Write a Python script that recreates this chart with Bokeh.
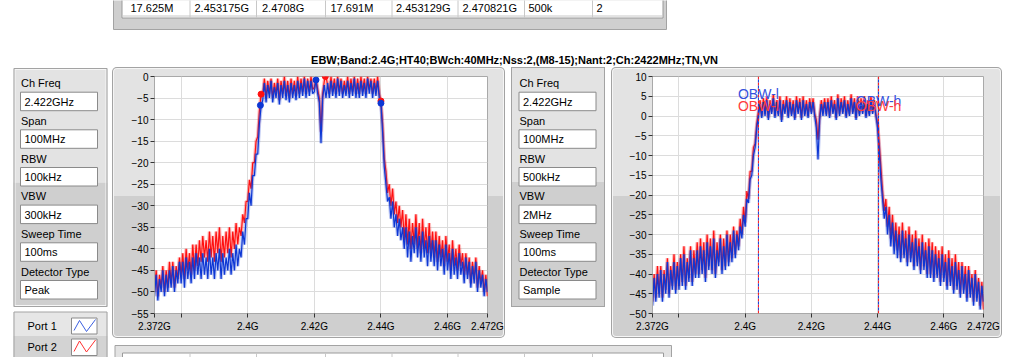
import numpy as np
from bokeh.plotting import figure
from bokeh.models import Range1d, FixedTicker, Span, Spacer
from bokeh.layouts import row, column
from bokeh.core.properties import value
from bokeh.embed import file_html
from bokeh.resources import INLINE

FONT = "Liberation Sans"

# ---- sweep: 2.372 GHz .. 2.472 GHz (MHz units) ----
f_start, f_stop = 2372.0, 2472.0

# Peak detector, RBW 100 kHz (dB)
port1_peak = [
    -51, -46, -52, -47, -50, -45, -51, -46, -50, -45, -49, -44, -50, -45, -48, -43,
    -48, -43, -49, -42, -47, -43, -48, -42, -47, -41, -46, -42,
    -47, -41, -46, -42, -47, -40, -46, -42, -47, -41, -45, -40, -47, -41, -46, -42, -45, -40, -46, -41, -45, -39, -44, -40,
    -42, -36, -39, -33, -33, -27, -30, -23, -23, -18, -18, -11, -7,
    -5.5, -1.5, -6, -2, -5, -1, -6, -2.5, -5, -1.5, -6.5, -2, -5, -1, -5.5, -2, -6, -1.5, -5, -2,
    -5.5, -1, -5, -1.5, -4.5, -0.5, -5, -1, -4.5, -1, -4,
    -3.5, -0.8, -4, -6, -15.5, -5, -2, -5, -1.5,
    -5, -1, -4.5, -1.5, -5, -0.5, -4.5, -1, -5, -2, -4.5, -1, -5, -1.5, -4.5, -0.5, -5, -1.5, -5, -1,
    -4.5, -1.5, -5, -0.5, -4, -1, -5, -1.5, -4.5, -1, -5,
    -6.2, -13, -21, -25, -29, -28, -33, -29, -35, -32, -37, -33, -38, -35,
    -40, -35, -42, -36, -43, -37, -41, -35, -42, -37, -43, -36, -42, -38, -44, -37, -43, -38,
    -44, -38, -45, -39, -44, -40, -46, -39, -45, -41, -47, -40, -46, -42, -47, -41, -46, -43,
    -48, -42, -47, -43, -49, -44, -48, -43, -50, -45, -49, -46, -51, -47, -50,
]
port2_peak = [
    -50, -45, -51, -46, -49, -44, -50, -45, -49, -43, -48, -43, -49, -44, -47, -42,
    -46, -41, -47, -40, -45, -41, -46, -39, -45, -39, -44, -38,
    -43, -37, -42, -38, -43, -36, -42, -37, -43, -36, -41, -35, -43, -37, -42, -36, -41, -35, -42, -36, -40, -34, -39, -35,
    -37, -32, -34, -29, -29, -24, -26, -20, -20, -15, -14, -8, -4,
    -4.5, -0.5, -5, -1, -4, -0.5, -5, -1.5, -4, -0.5, -5.5, -1, -4, 0, -4.5, -1, -5, -0.5, -4, -1,
    -4.5, 0, -4, -0.5, -3.5, 0, -4, -0.5, -3.5, 0, -3,
    -2.5, -0.5, -3, -5, -12.8, -4, -1, 0, -2,
    -4, 0, -3.5, -0.5, -4, 0, -3.5, -0.5, -4, -1, -3.5, 0, -4, -0.5, -3.5, 0, -4, -0.5, -4, 0,
    -3.5, -0.5, -4, 0, -3, -0.5, -4, -0.5, -3.5, 0, -4,
    -5.7, -11, -19, -22, -27, -25, -30, -26, -32, -29, -34, -30, -35, -31,
    -38, -32, -39, -33, -40, -34, -39, -32, -40, -34, -41, -33, -40, -35, -41, -34, -41, -36,
    -42, -36, -43, -37, -42, -38, -44, -37, -43, -39, -45, -38, -44, -40, -45, -39, -44, -41,
    -46, -41, -46, -42, -48, -43, -47, -42, -49, -44, -48, -45, -50, -46, -51,
]

# Sample detector, RBW 500 kHz (dB)
port1_sample = [
    -48, -41, -47, -40, -46, -39, -47, -40, -45, -37, -46, -39, -44, -37, -45, -38,
    -44, -36, -43, -35, -44, -37, -42, -34, -43, -36, -41, -34,
    -41, -33, -40, -34, -42, -32, -39, -33, -40, -31, -41, -34, -38, -31, -40, -33, -39, -30, -38, -32, -37, -29, -36, -30,
    -34, -28, -31, -25, -28, -21, -22, -16, -15, -10, -8, -3, 0,
    3, -0.5, 3.5, 0, 4, -1, 3, 0.5, 4.5, -0.5, 3.5, 0, 4, -1.5, 3, 0.5, 4, -0.5, 3.5, 0,
    3, -1, 4, 0.5, 3.5, -1, 4, 0, 3, -0.5, 3.5,
    0.5, 3.5, 0, -3, -11, -1, 3, 0, 3.5,
    0, 3.5, -0.5, 4, 0.5, 3, -1, 4.5, 0, 3.5, 0.5, 4, -0.5, 3, 0, 4.5, 0.5, 3.5, -1, 4,
    0, 3.5, 0.5, 4, -0.5, 3, 0, 4, 0.5, 3, 0,
    -3, -9, -16, -21, -26, -23, -30, -25, -33, -27, -35, -29, -36, -30,
    -37, -29, -36, -31, -38, -30, -37, -32, -39, -31, -38, -33, -40, -32, -39, -34, -41, -33,
    -41, -34, -42, -35, -41, -36, -43, -35, -42, -37, -44, -36, -43, -38, -45, -37, -44, -39,
    -46, -38, -45, -40, -47, -39, -46, -41, -48, -40, -47, -42, -49, -43, -47,
]
port2_sample = [
    -47, -40, -46, -38, -45, -38, -46, -39, -44, -36, -45, -38, -43, -35, -44, -37,
    -43, -35, -42, -33, -43, -36, -41, -33, -42, -34, -40, -32,
    -40, -31, -39, -32, -41, -30, -38, -31, -39, -29, -40, -32, -37, -30, -39, -31, -38, -29, -37, -30, -36, -28, -35, -29,
    -33, -26, -30, -23, -27, -19, -21, -14, -14, -8, -7, -2, 1,
    4, 0, 4.5, 0.5, 5, -0.5, 4, 1, 5.5, 0, 4, 0.5, 5, -1, 4, 1, 5, 0, 4.5, 0.5,
    4, -0.5, 5, 1, 4.5, -0.5, 5, 0.5, 4, 0, 4.5,
    1, 4.5, 0.5, -1, -6, 0, 4, 1, 4.5,
    0.5, 4.5, 0, 5, 1, 4, -0.5, 5.5, 0.5, 4.5, 1, 5, 0, 4, 0.5, 5.5, 1, 4.5, -0.5, 5,
    0.5, 4.5, 1, 5, 0, 4, 0.5, 5, 1, 4, 0.5,
    -2, -7, -13, -19, -24, -21, -28, -23, -31, -25, -33, -27, -34, -28,
    -36, -27, -35, -29, -37, -28, -36, -30, -38, -29, -37, -31, -39, -30, -38, -32, -40, -31,
    -40, -32, -41, -33, -40, -34, -42, -33, -41, -35, -43, -34, -42, -36, -44, -35, -43, -37,
    -45, -37, -44, -38, -46, -38, -45, -40, -47, -39, -46, -41, -48, -42, -49,
]

# band-edge and peak markers on the peak-detector graph
port1_marker_f = [2403.8, 2420.5, 2440.0]
port1_marker_db = [-6.7, -0.8, -6.2]
port2_marker_f = [2404.0, 2423.3, 2440.0]
port2_marker_db = [-4.1, 0.0, -5.7]

# occupied-bandwidth cursors on the sample-detector graph
obw_f = [2404.0, 2440.3]
obw_names = ["OBW-l", "OBW-h"]
obw_port1_db = [5.6, 3.9]
obw_port2_db = [2.6, 2.6]

x_tick_values = [2372, 2380, 2400, 2420, 2440, 2460, 2472]
x_tick_labels = ["2.372G", "", "2.4G", "2.42G", "2.44G", "2.46G", "2.472G"]
peak_y_ticks = list(range(-55, 1, 5))
sample_y_ticks = list(range(-50, 11, 5))

setting_names = ["Ch Freq", "Span", "RBW", "VBW", "Sweep Time", "Detector Type"]
peak_settings = ["2.422GHz", "100MHz", "100kHz", "300kHz", "100ms", "Peak"]
sample_settings = ["2.422GHz", "100MHz", "500kHz", "2MHz", "100ms", "Sample"]

result_row = ["17.625M", "2.453175G", "2.4708G", "17.691M", "2.453129G", "2.470821G", "500k", "2"]
port_names = ["Port 1", "Port 2"]

title_text = "EBW;Band:2.4G;HT40;BWch:40MHz;Nss:2,(M8-15);Nant:2;Ch:2422MHz;TN,VN"

PORT1 = "#0d37d4"
PORT2 = "#ff1010"
LIGHT = "#e3e3e3"
DARK = "#cfcfcf"
EDGE = "#a3a3a3"


def chrome(x0, y0, w, h):
    """Pixel-space canvas for the panel decorations."""
    p = figure(width=w, height=h, x_range=Range1d(x0, x0 + w), y_range=Range1d(y0 + h, y0),
               toolbar_location=None, output_backend="svg", min_border=0,
               x_axis_location=None, y_axis_location=None)
    p.grid.visible = False
    p.outline_line_color = None
    p.background_fill_color = "white"
    p.border_fill_color = "white"
    return p


def panel(p, x0, x1, y0, y1, split):
    p.quad(left=[x0], right=[x1], top=[y0], bottom=[split], fill_color=LIGHT, line_color=None)
    p.quad(left=[x0], right=[x1], top=[split], bottom=[y1], fill_color=DARK, line_color=None)
    p.quad(left=[x0 + 1.5], right=[x1 - 1.5], top=[y0 + 1.5], bottom=[y1 - 1.5],
           fill_color=None, line_color="#f6f6f6")
    p.quad(left=[x0 + 0.5], right=[x1 - 0.5], top=[y0 + 0.5], bottom=[y1 - 0.5],
           fill_color=None, line_color=EDGE)


def txt(p, xs, ys, texts, size="11px", align="left", baseline="middle", color="black", style="normal"):
    p.text(x=xs, y=ys, text=texts, text_font=value(FONT), text_font_size=size,
           text_align=align, text_baseline=baseline, text_color=color, text_font_style=style)


label_y = [82.7, 120.3, 158.0, 195.6, 233.3, 271.0]


def settings_fields(p, x0, vals):
    bl = x0 + 7
    br = x0 + 84
    p.quad(left=[bl] * 6, right=[br] * 6, top=[y + 9 for y in label_y],
           bottom=[y + 27.5 for y in label_y], fill_color="white", line_color="#8a8a8a")
    txt(p, [x0 + 7.5] * 6, label_y, setting_names)
    txt(p, [bl + 4] * 6, [y + 18.6 for y in label_y], vals)


# ---- top strip: result table edge and test title ----
top = chrome(0, 0, 1018, 67)
top.quad(left=[113], right=[666], top=[-10], bottom=[29], fill_color=DARK, line_color=EDGE)
top.quad(left=[121.5], right=[662.5], top=[-10], bottom=[17.5], fill_color="white", line_color="#9a9a9a")
col_sep = [189.5, 256, 325, 391.5, 457.5, 524, 592]
top.segment(x0=col_sep, y0=[-10] * 7, x1=col_sep, y1=[17.5] * 7, color="#c8c8c8")
top.segment(x0=[122], y0=[15.5], x1=[662], y1=[15.5], color="#c8c8c8")
txt(top, [130, 194, 261.5, 330, 395.5, 462, 528, 596], [7.0] * 8, result_row)
txt(top, [514], [59.5], [title_text], align="center", style="bold")

# ---- left column: peak-detector settings and port legend ----
left = chrome(0, 67, 112, 290)
panel(left, 13, 107, 67.5, 306.5, 182)
settings_fields(left, 13, peak_settings)
left.quad(left=[13], right=[107], top=[311.5], bottom=[335.5], fill_color="#e6e6e6", line_color=None)
left.quad(left=[13], right=[107], top=[335.5], bottom=[370], fill_color="#d3d3d3", line_color=None)
left.quad(left=[13.5], right=[106.5], top=[311.5], bottom=[370], fill_color=None, line_color=EDGE)
txt(left, [27, 27], [325.7, 346.7], port_names)
left.quad(left=[71, 71], right=[96.5, 96.5], top=[317.5, 338.5], bottom=[333.5, 355],
          fill_color="white", line_color="#8a8a8a")
left.line([73.5, 79, 86, 95], [330, 320, 331, 319], color="#3b5fe0", line_width=1)
left.line([73.5, 79, 86, 95], [351, 340.5, 351.5, 339.5], color="#ff3030", line_width=1)


def edge(x, y, w, h):
    return f"linear-gradient({EDGE},{EDGE}) {x}px {y}px / {w}px {h}px no-repeat"


# ---- middle column: sample-detector settings (panel body painted by CSS) ----
MID_CSS = {
    "background": ", ".join([
        edge(6, 0, 94, 1), edge(6, 239, 94, 1), edge(6, 0, 1, 240), edge(99, 0, 1, 240),
        f"linear-gradient({LIGHT} 0px, {LIGHT} 115px, {DARK} 115px, {DARK} 240px) 6px 0px / 94px 240px no-repeat",
    ]),
}
mid = figure(width=106, height=271, x_range=Range1d(505, 611), y_range=Range1d(313, 76),
             toolbar_location=None, output_backend="svg",
             min_border_left=0, min_border_right=0, min_border_top=9, min_border_bottom=25,
             x_axis_location=None, y_axis_location=None, styles=MID_CSS)
mid.grid.visible = False
mid.outline_line_color = None
mid.background_fill_color = None
mid.border_fill_color = None
settings_fields(mid, 511.5, sample_settings)

# ---- bottom strip: second table edge ----
bottom = chrome(112, 338, 906, 19)
bottom.quad(left=[114.5], right=[671], top=[345], bottom=[380], fill_color=LIGHT, line_color=EDGE)
bottom.quad(left=[122], right=[663], top=[352.5], bottom=[380], fill_color="white", line_color="#9a9a9a")
bottom.segment(x0=col_sep, y0=[352.5] * 7, x1=col_sep, y1=[380] * 7, color="#c8c8c8")

CHART_CSS = {
    "background": f"linear-gradient(to bottom, {LIGHT} 0px, {LIGHT} 129px, {DARK} 129px, {DARK} 100%)",
    "border-radius": "5px",
    "box-shadow": f"inset 0 0 0 1px {EDGE}, inset 0 0 0 2px #f5f5f5",
}


def spectrum(width, min_left, min_right, y_lo, y_hi, y_ticks):
    p = figure(width=width, height=271, x_range=Range1d(f_start, f_stop), y_range=Range1d(y_lo, y_hi),
               toolbar_location=None, output_backend="svg",
               min_border_left=min_left, min_border_right=min_right,
               min_border_top=9, min_border_bottom=25, styles=CHART_CSS)
    p.border_fill_color = None
    p.background_fill_color = "white"
    p.outline_line_color = "#a9a9a9"
    p.xaxis.ticker = FixedTicker(ticks=x_tick_values)
    p.xaxis.major_label_overrides = dict(zip(x_tick_values, x_tick_labels))
    p.yaxis.ticker = FixedTicker(ticks=y_ticks)
    p.xgrid.ticker = FixedTicker(ticks=x_tick_values)
    p.ygrid.ticker = FixedTicker(ticks=y_ticks)
    p.grid.grid_line_color = "#dcdcdc"
    p.axis.axis_line_color = "#a9a9a9"
    p.axis.major_tick_line_color = "#333333"
    p.axis.major_tick_out = 4
    p.axis.major_tick_in = 0
    p.axis.minor_tick_line_color = None
    p.axis.major_label_text_font = FONT
    p.axis.major_label_text_font_size = "10px"
    p.axis.major_label_text_color = "black"
    p.xaxis.major_label_standoff = 3
    p.yaxis.major_label_standoff = 2
    return p


def trace(p, f, db, color):
    # soft halo under a crisp line, as drawn by the analyser's graph
    p.line(f, db, color=color, line_width=3.5, line_alpha=0.28)
    p.line(f, db, color=color, line_width=1.2)


# ---- peak-detector spectrum ----
p1 = spectrum(393, 42, 18, -55, 0, peak_y_ticks)
trace(p1, np.linspace(f_start, f_stop, len(port2_peak)), port2_peak, PORT2)
trace(p1, np.linspace(f_start, f_stop, len(port1_peak)), port1_peak, PORT1)
p1.scatter(port2_marker_f, port2_marker_db, size=6, color=PORT2)
p1.scatter(port1_marker_f, port1_marker_db, size=6, color=PORT1)

# ---- sample-detector spectrum with OBW cursors ----
p2 = spectrum(391, 41, 19, -50, 10, sample_y_ticks)
trace(p2, np.linspace(f_start, f_stop, len(port2_sample)), port2_sample, PORT2)
trace(p2, np.linspace(f_start, f_stop, len(port1_sample)), port1_sample, PORT1)
for f in obw_f:
    p2.add_layout(Span(location=f, dimension="height", line_color=PORT2, line_width=1, line_dash="3 3"))
    p2.add_layout(Span(location=f, dimension="height", line_color=PORT1, line_width=1,
                       line_dash="3 3", line_dash_offset=3))
txt(p2, obw_f, obw_port1_db, obw_names, size="14px", align="center", color="#3552dd")
txt(p2, obw_f, obw_port2_db, obw_names, size="14px", align="center", color="#ff3b3b")

layout = column(
    top,
    row(left, column(row(p1, mid, p2, Spacer(width=16, height=271)), bottom)),
)

open("out.html", "w").write(file_html(layout, INLINE))
